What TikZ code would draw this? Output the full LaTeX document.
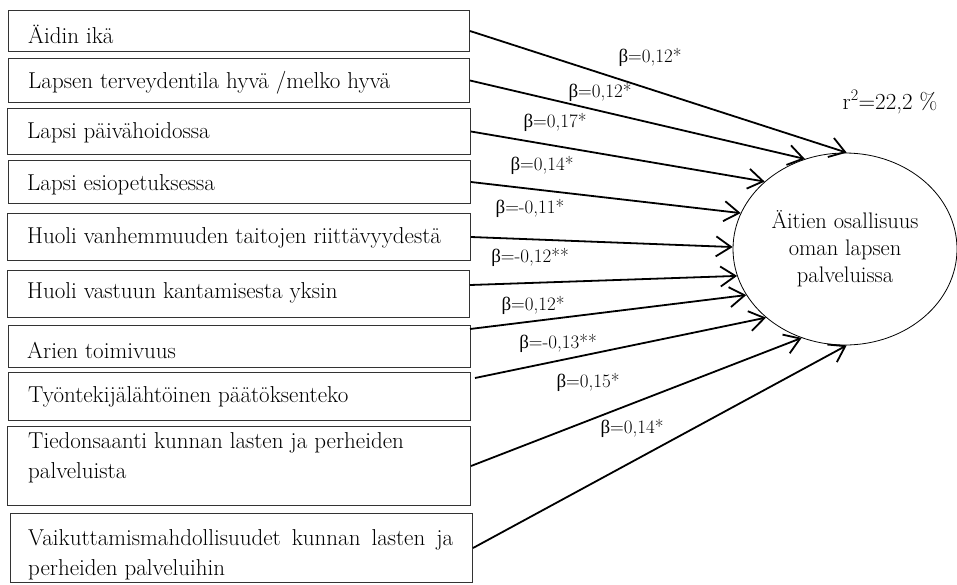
\documentclass[tikz,border=0pt]{standalone}
\usepackage{fontspec}
\usetikzlibrary{arrows.meta,shapes.geometric}
\newfontfamily\grk{Liberation Serif}
\begin{document}
\begin{tikzpicture}[x=1pt,y=-1pt,
  boxst/.style={draw=black!80,line width=1pt,minimum width=#1,inner sep=0pt,anchor=north west,rectangle},
  txt/.style={anchor=west,inner sep=0pt,font=\fontsize{23}{30}\selectfont,align=left},
  lbl/.style={inner sep=0pt,font=\fontsize{19}{21}\selectfont},
  arr/.style={line width=1.8pt,-{Straight Barb[length=15pt,width=20pt,line width=1.8pt]}}]
\useasboundingbox (0,0) rectangle (957,584);
\node[boxst=461pt,minimum height=41pt] (b1) at (8,10) {};
\node[boxst=461pt,minimum height=44pt] (b2) at (8,58) {};
\node[boxst=463pt,minimum height=46pt] (b3) at (7,108) {};
\node[boxst=462pt,minimum height=43pt] (b4) at (8,160) {};
\node[boxst=463pt,minimum height=47pt] (b5) at (7,213) {};
\node[boxst=462pt,minimum height=47pt] (b6) at (7,270) {};
\node[boxst=462pt,minimum height=42pt] (b7) at (8,325) {};
\node[boxst=462pt,minimum height=48pt] (b8) at (8,372) {};
\node[boxst=463pt,minimum height=79pt] (b9) at (7,426) {};
\node[boxst=462pt,minimum height=69pt] (b10) at (10,513) {};

\node[txt] (l1) at (28,34) {Äidin ikä};
\node[txt] (l2) at (28,83) {Lapsen terveydentila hyvä /melko hyvä};
\node[txt] (l3) at (27,133) {Lapsi päivähoidossa};
\node[txt] (l4) at (27,185) {Lapsi esiopetuksessa};
\node[txt] (l5) at (27,238) {Huoli vanhemmuuden taitojen riittävyydestä};
\node[txt] (l6) at (27,293) {Huoli vastuun kantamisesta yksin};
\node[txt] (l7) at (27,350) {Arien toimivuus};
\node[txt] (l8) at (28,397) {Työntekijälähtöinen päätöksenteko};
\node[txt] (l9) at (28,458) {Tiedonsaanti kunnan lasten ja perheiden\\palveluista};
\node[txt] (l10) at (28,555) {\makebox[425pt][s]{Vaikuttamismahdollisuudet kunnan lasten ja}\\perheiden palveluihin};

\node[ellipse,draw,line width=0.8pt,minimum width=224pt,minimum height=192pt,inner sep=0pt,align=center,font=\fontsize{22.5}{27}\selectfont] (e) at (845,249) {Äitien osallisuus\\oman lapsen\\palveluissa};

\coordinate (s6) at (470,285);
\coordinate (s7) at (470,329);
\coordinate (s8) at (475,378);

\draw[arr] (b1.east) -- (e.89);
\draw[arr] (b2.east) -- (e.114);
\draw[arr] (b3.east) -- (e.140);
\draw[arr] (b4.east) -- (e.161.6);
\draw[arr] (b5.east) -- (e.179.5);
\draw[arr] (s6) -- (e.194);
\draw[arr] (s7) -- (e.205);
\draw[arr] (s8) -- (e.221);
\draw[arr] (b9.east) -- (e.244);
\draw[arr] (b10.east) -- (e.271);

\node[lbl] (k1) at (650,57) {{\grk β}=0,12*};
\node[lbl] (k2) at (600,92) {{\grk β}=0,12*};
\node[lbl] (k3) at (555,122) {{\grk β}=0,17*};
\node[lbl] (k4) at (542,165) {{\grk β}=0,14*};
\node[lbl] (k5) at (530,208) {{\grk β}=-0,11*};
\node[lbl] (k6) at (530,257) {{\grk β}=-0,12**};
\node[lbl] (k7) at (533,305) {{\grk β}=0,12*};
\node[lbl] (k8) at (558,343) {{\grk β}=-0,13**};
\node[lbl] (k9) at (588,382) {{\grk β}=0,15*};
\node[lbl] (k10) at (632,428) {{\grk β}=0,14*};
\node[lbl,font=\fontsize{23}{25}\selectfont] (r) at (890,102) {r\textsuperscript{2}=22,2 \%};
\end{tikzpicture}
\end{document}
